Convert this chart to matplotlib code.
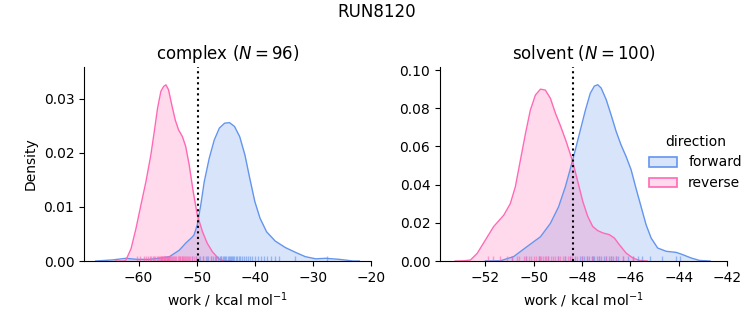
import matplotlib
matplotlib.use("Agg")
import matplotlib.pyplot as plt
from matplotlib.patches import Patch

# density curves (x = work, y = density)
complex_fwd_x = [-67.4, -64.5, -62.2, -60.2, -58.2, -56.5, -54.7, -53.0, -51.9, -50.9, -50.47, -49.9, -49.3,
                 -48.7, -47.85, -46.98, -46.1, -45.2, -44.36, -43.5, -42.6, -41.7, -40.87, -40.0, -39.1,
                 -37.97, -36.5, -34.77, -33.0, -31.3, -29.5, -27.8, -25.4, -23.1, -22.0]
complex_fwd_y = [0.0, 0.0002, 0.0005, 0.0003, 0.0003, 0.0005, 0.0008, 0.002, 0.0033, 0.0043, 0.0048, 0.0067,
                 0.0104, 0.0147, 0.019, 0.0224, 0.0246, 0.0255, 0.0256, 0.0249, 0.023, 0.0196, 0.0153, 0.011,
                 0.0079, 0.0054, 0.0037, 0.0025, 0.0016, 0.0008, 0.0004, 0.0005, 0.0003, 0.0, 0.0]
complex_rev_x = [-64.0, -62.5, -62.17, -61.3, -60.46, -59.6, -58.74, -57.9, -57.3, -56.74, -56.17, -55.7,
                 -55.3, -54.86, -54.3, -53.7, -53.14, -52.46, -51.9, -51.3, -50.6, -49.9, -49.0, -48.2, -47.3,
                 -46.2, -45.3, -44.0]
complex_rev_y = [0.0, 0.0, 0.0002, 0.0023, 0.006, 0.0104, 0.0147, 0.0196, 0.024, 0.0283, 0.0314, 0.0323,
                 0.0326, 0.0317, 0.0289, 0.0261, 0.0243, 0.023, 0.0212, 0.0178, 0.0128, 0.0085, 0.0054, 0.0033,
                 0.0017, 0.0004, 0.0, 0.0]

solvent_fwd_x = [-52.0, -51.38, -50.83, -50.28, -49.72, -49.31, -48.97, -48.69, -48.48, -48.28, -48.07, -47.86,
                 -47.66, -47.49, -47.35, -47.21, -47.0, -46.8, -46.59, -46.39, -46.18, -45.97, -45.77, -45.56,
                 -45.35, -45.14, -44.87, -44.52, -44.1, -43.83, -43.49, -43.14, -42.7]
solvent_fwd_y = [0.0, 0.0001, 0.0023, 0.0075, 0.0127, 0.0197, 0.0284, 0.0389, 0.0485, 0.0581, 0.0686, 0.079,
                 0.0878, 0.0916, 0.0923, 0.0906, 0.0845, 0.0766, 0.0679, 0.0609, 0.0548, 0.0478, 0.0382, 0.0286,
                 0.019, 0.012, 0.0068, 0.0051, 0.0045, 0.0033, 0.0016, 0.0003, 0.0]
solvent_rev_x = [-53.25, -52.9, -52.62, -52.34, -52.0, -51.66, -51.24, -50.97, -50.76, -50.55, -50.34, -50.14,
                 -49.93, -49.72, -49.52, -49.31, -49.1, -48.9, -48.66, -48.39, -48.18, -47.97, -47.77, -47.56,
                 -47.35, -47.14, -46.87, -46.66, -46.46, -46.18, -45.9, -45.63, -45.3]
solvent_rev_y = [0.0, 0.0001, 0.0005, 0.004, 0.011, 0.018, 0.024, 0.03, 0.0389, 0.0529, 0.0668, 0.079,
                 0.0869, 0.09, 0.0895, 0.0852, 0.0773, 0.071, 0.0627, 0.0522, 0.0417, 0.0312, 0.0235, 0.0181,
                 0.0159, 0.0147, 0.0138, 0.012, 0.0086, 0.0042, 0.0016, 0.0003, 0.0]

# rug positions (individual work values, estimated)
complex_fwd_rug = [-50.9, -50.2, -49.5, -48.9, -48.4, -48.0, -47.6, -47.2, -46.9, -46.6, -46.3, -46.0, -45.8,
                   -45.5, -45.3, -45.1, -44.9, -44.7, -44.5, -44.3, -44.1, -43.9, -43.7, -43.5, -43.3, -43.0,
                   -42.8, -42.5, -42.2, -41.9, -41.6, -41.2, -40.8, -40.4, -40.0, -39.5, -39.0, -38.5, -37.9,
                   -37.2, -36.5, -35.9, -33.0, -27.5]
complex_rev_rug = [-60.3, -59.8, -59.1, -58.7, -58.4, -58.0, -57.8, -57.5, -57.3, -57.1, -56.9, -56.7, -56.5,
                   -56.4, -56.2, -56.1, -56.0, -55.9, -55.8, -55.7, -55.6, -55.5, -55.4, -55.3, -55.2, -55.1,
                   -55.0, -54.9, -54.8, -54.7, -54.6, -54.4, -54.3, -54.1, -53.9, -53.7, -53.5, -53.3, -53.1,
                   -52.9, -52.8, -52.6, -52.5, -52.3, -52.2, -52.0, -51.9, -51.7, -51.5, -51.3, -51.1, -50.8,
                   -50.5, -50.1, -49.6, -49.0, -48.3, -47.5, -46.6, -45.8]
solvent_fwd_rug = [-50.9, -50.3, -49.8, -49.4, -49.0, -48.7, -48.5, -48.3, -48.1, -48.0, -47.9, -47.8, -47.7,
                   -47.6, -47.55, -47.5, -47.4, -47.3, -47.2, -47.1, -47.0, -46.9, -46.8, -46.7, -46.6, -46.5,
                   -46.3, -46.1, -45.9, -45.7, -45.5, -45.2, -44.7, -44.1, -43.95]
solvent_rev_rug = [-51.9, -51.7, -51.4, -51.1, -50.9, -50.7, -50.6, -50.4, -50.3, -50.2, -50.1, -50.0, -49.9,
                   -49.8, -49.75, -49.7, -49.6, -49.55, -49.5, -49.4, -49.3, -49.2, -49.1, -49.0, -48.9, -48.8,
                   -48.7, -48.6, -48.5, -48.4, -48.2, -48.0, -47.8, -47.6, -47.3, -47.0, -46.8, -46.6, -46.3,
                   -45.9]

# dotted line positions (free energy estimate)
complex_dg = -49.8
solvent_dg = -48.38

blue = "cornflowerblue"
pink = "hotpink"

fig = plt.figure(figsize=(7.53, 3.25), dpi=100)
ax1 = fig.add_axes([0.1116, 0.1969, 0.3811, 0.597])
ax2 = fig.add_axes([0.5843, 0.1969, 0.3812, 0.597])


def draw(ax, fx, fy, rx, ry, frug, rrug, dg):
    ax.fill_between(fx, fy, color=blue, alpha=0.25, lw=0)
    ax.plot(fx, fy, color=blue, lw=1)
    ax.fill_between(rx, ry, color=pink, alpha=0.25, lw=0)
    ax.plot(rx, ry, color=pink, lw=1)
    trans = ax.get_xaxis_transform()
    ax.vlines(frug, 0, 0.025, transform=trans, color=blue, alpha=0.6, lw=1)
    ax.vlines(rrug, 0, 0.025, transform=trans, color=pink, alpha=0.6, lw=1)
    ax.axvline(dg, color="black", ls=":", lw=1.5)
    ax.spines["top"].set_visible(False)
    ax.spines["right"].set_visible(False)
    ax.set_xlabel("work / kcal mol$^{-1}$")


draw(ax1, complex_fwd_x, complex_fwd_y, complex_rev_x, complex_rev_y,
     complex_fwd_rug, complex_rev_rug, complex_dg)
ax1.set_xlim(-69.4, -20)
ax1.set_ylim(0, 0.0359)
ax1.set_xticks([-60, -50, -40, -30, -20])
ax1.set_yticks([0.0, 0.01, 0.02, 0.03])
ax1.set_ylabel("Density")
ax1.set_title("complex ($N = 96$)", fontsize=12)

draw(ax2, solvent_fwd_x, solvent_fwd_y, solvent_rev_x, solvent_rev_y,
     solvent_fwd_rug, solvent_rev_rug, solvent_dg)
ax2.set_xlim(-53.88, -42)
ax2.set_ylim(0, 0.1016)
ax2.set_xticks([-52, -50, -48, -46, -44, -42])
ax2.set_yticks([0.0, 0.02, 0.04, 0.06, 0.08, 0.10])
ax2.set_title("solvent ($N = 100$)", fontsize=12)

handles = [Patch(facecolor=(0.392, 0.584, 0.929, 0.25), edgecolor=blue, lw=1.2, label="forward"),
           Patch(facecolor=(1.0, 0.412, 0.706, 0.25), edgecolor=pink, lw=1.2, label="reverse")]
fig.legend(handles=handles, title="direction", loc="center left",
           bbox_to_anchor=(0.8457, 0.5), frameon=False, fontsize=10, title_fontsize=10)

fig.suptitle("RUN8120", fontsize=12, y=0.99)
fig.savefig("out.png", dpi=100)
